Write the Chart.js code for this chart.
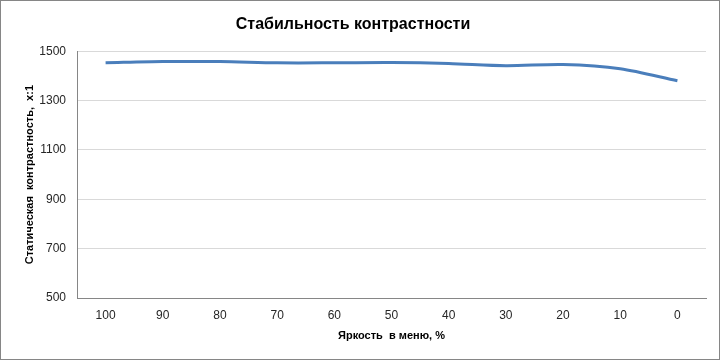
<!DOCTYPE html>
<html>
<head>
<meta charset="utf-8">
<script src="https://cdn.jsdelivr.net/npm/chart.js@4/dist/chart.umd.min.js"></script>
<style>
    body { margin: 0; background: #fff; }
    canvas { display: block; }
</style>
</head>
<body>
<canvas id="contrastChart" width="720" height="360"></canvas>
<script>
// brightness in menu, %
const brightness = ["100", "90", "80", "70", "60", "50", "40", "30", "20", "10", "0"];
// static contrast, x:1
const contrast = [1453, 1458, 1458, 1453, 1453, 1454, 1450, 1441, 1446, 1429, 1380];
const yTicks = [500, 700, 900, 1100, 1300, 1500];

const fontFamily = "'Liberation Sans', Arial, sans-serif";

const frameBorder = {
    id: "frameBorder",
    afterDraw: function (chart) {
        const ctx = chart.ctx;
        ctx.save();
        ctx.strokeStyle = "#868686";
        ctx.lineWidth = 1;
        ctx.strokeRect(0.5, 0.5, chart.width - 1, chart.height - 1);
        ctx.restore();
    }
};

document.addEventListener("DOMContentLoaded", function () {
    const ctx = document.getElementById("contrastChart");

    new Chart(ctx, {
        type: "line",
        data: {
            labels: brightness,
            datasets: [{
                data: contrast,
                borderColor: "#4a7ebb",
                borderWidth: 3,
                pointRadius: 0,
                tension: 0.3,
                fill: false
            }]
        },
        options: {
            responsive: false,
            animation: false,
            layout: { padding: { left: 0, right: 14, top: 0, bottom: 0 } },
            plugins: {
                legend: { display: false },
                tooltip: { enabled: false },
                title: {
                    display: true,
                    text: "Стабильность контрастности",
                    color: "#000",
                    font: { family: fontFamily, size: 16, weight: "bold" },
                    padding: { top: 15, bottom: 17 }
                }
            },
            scales: {
                x: {
                    offset: true,
                    grid: { display: false, drawTicks: false },
                    border: { display: true, color: "#868686" },
                    ticks: {
                        color: "#262626",
                        padding: 10,
                        font: { family: fontFamily, size: 12 }
                    },
                    title: {
                        display: true,
                        text: "Яркость  в меню, %",
                        color: "#000",
                        font: { family: fontFamily, size: 11, weight: "bold" },
                        padding: { top: 17, bottom: 17 }
                    },
                    afterFit: function (scale) { scale.height = 62; }
                },
                y: {
                    min: yTicks[0],
                    max: yTicks[yTicks.length - 1],
                    afterBuildTicks: function (scale) {
                        scale.ticks = yTicks.map(function (v) { return { value: v }; });
                    },
                    grid: { color: "#d9d9d9", drawTicks: false },
                    border: { display: true, color: "#868686" },
                    ticks: {
                        color: "#262626",
                        padding: 11,
                        font: { family: fontFamily, size: 12 },
                        callback: function (value) { return String(value); }
                    },
                    title: {
                        display: true,
                        text: "Статическая  контрастность,  x:1",
                        color: "#000",
                        font: { family: fontFamily, size: 11, weight: "bold" },
                        padding: { top: 23, bottom: 23 }
                    },
                    afterFit: function (scale) { scale.width = 77; }
                }
            }
        },
        plugins: [frameBorder]
    });
});
</script>
</body>
</html>
